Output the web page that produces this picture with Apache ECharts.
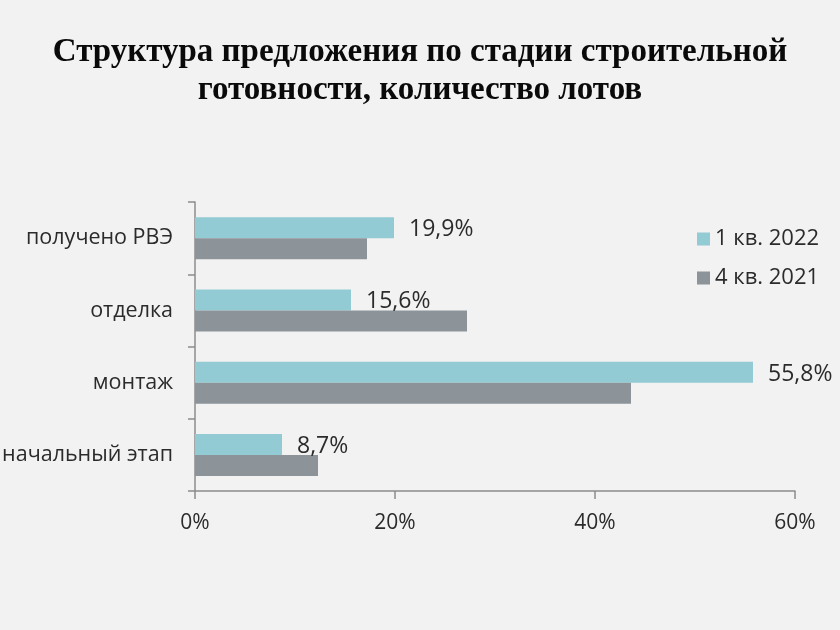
<!DOCTYPE html>
<html>
<head>
<meta charset="utf-8">
<script src="https://cdn.jsdelivr.net/npm/echarts@6/dist/echarts.min.js"></script>
<style>
  html, body { margin: 0; padding: 0; background: #f2f2f2; }
  #chart { width: 840px; height: 630px; }
</style>
</head>
<body>
<div id="chart"></div>
<script>
// категории (сверху вниз)
var categories = ['получено РВЭ', 'отделка', 'монтаж', 'начальный этап'];
// доли, %
var q1_2022 = [19.9, 15.6, 55.8, 8.7];
var q4_2021 = [17.2, 27.2, 43.6, 12.3];
var seriesNames = ['1 кв. 2022', '4 кв. 2021'];
var xTicks = [0, 20, 40, 60];

var chart = echarts.init(document.getElementById('chart'));

var textFont = '"Open Sans", sans-serif';

var option = {
  backgroundColor: '#f2f2f2',
  animation: false,
  title: {
    text: 'Структура предложения по стадии строительной\nготовности, количество лотов',
    left: 'center',
    top: 28,
    textStyle: {
      fontFamily: '"Liberation Serif", serif',
      fontWeight: 'bold',
      fontSize: 33,
      lineHeight: 38,
      color: '#0a0a0a'
    }
  },
  legend: {
    data: seriesNames,
    orient: 'vertical',
    left: 692,
    top: 223,
    itemWidth: 13,
    itemHeight: 13,
    itemGap: 17,
    icon: 'rect',
    textStyle: { fontFamily: textFont, fontSize: 22, color: '#2b2b2b' }
  },
  grid: {
    left: 195,
    right: 45,
    top: 202,
    bottom: 139,
    containLabel: false,
    outerBoundsMode: 'none'
  },
  xAxis: {
    type: 'value',
    min: xTicks[0],
    max: xTicks[xTicks.length - 1],
    interval: 20,
    splitLine: { show: false },
    axisLine: { show: true, lineStyle: { color: '#8c8c8c', width: 1.5 } },
    axisTick: { show: true, length: 8, lineStyle: { color: '#8c8c8c', width: 1.5 } },
    axisLabel: {
      margin: 22,
      fontFamily: textFont,
      fontSize: 21,
      color: '#2b2b2b',
      formatter: '{value}%'
    }
  },
  yAxis: {
    type: 'category',
    inverse: true,
    data: categories,
    axisLine: { show: true, lineStyle: { color: '#8c8c8c', width: 1.5 } },
    axisTick: { show: true, length: 7, lineStyle: { color: '#8c8c8c', width: 1.5 } },
    axisLabel: {
      margin: 22,
      fontFamily: textFont,
      fontSize: 21.5,
      color: '#2b2b2b'
    }
  },
  series: [
    {
      name: seriesNames[0],
      type: 'bar',
      data: q1_2022,
      barWidth: 21,
      barGap: '0%',
      itemStyle: { color: '#92cbd4' },
      label: {
        show: true,
        position: 'right',
        distance: 15,
        offset: [0, 2],
        fontFamily: textFont,
        fontSize: 23,
        color: '#2b2b2b',
        formatter: function (p) { return String(p.value).replace('.', ',') + '%'; }
      }
    },
    {
      name: seriesNames[1],
      type: 'bar',
      data: q4_2021,
      barWidth: 21,
      barGap: '0%',
      itemStyle: { color: '#8c9399' }
    }
  ]
};

chart.setOption(option);
</script>
</body>
</html>
